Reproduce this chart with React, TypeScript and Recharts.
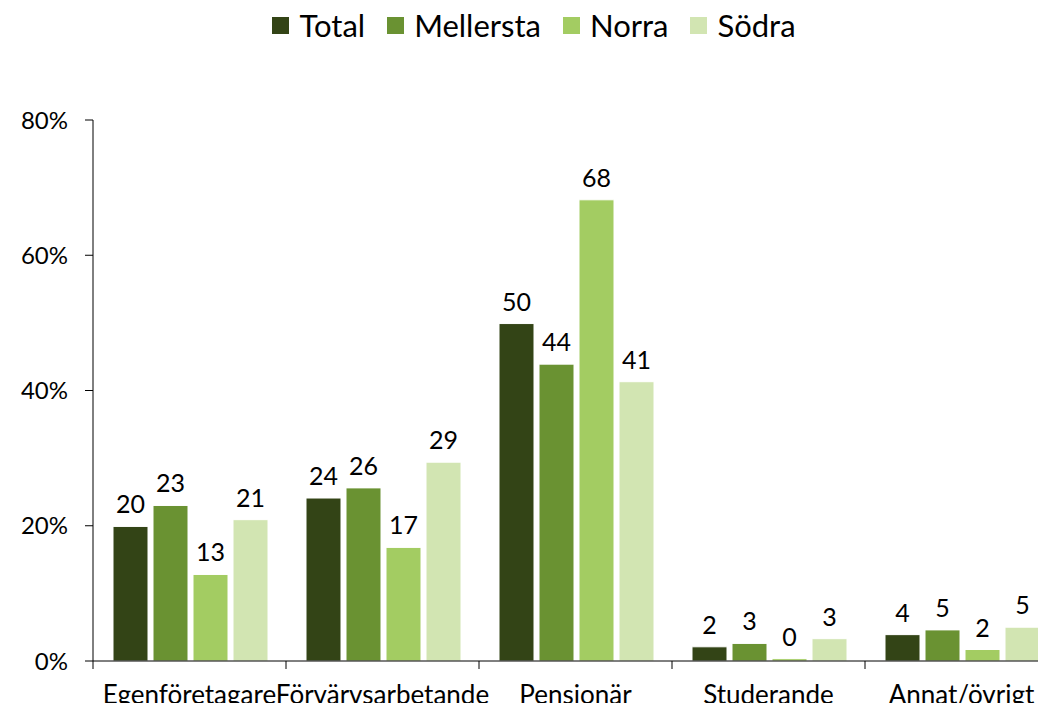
import React from 'react'
import { BarChart, Bar, XAxis, YAxis, LabelList } from 'recharts'

const categories = ['Egenföretagare', 'Förvärvsarbetande', 'Pensionär', 'Studerande', 'Annat/övrigt']
const total = [19.9, 24.1, 49.9, 2.1, 3.9]
const mellersta = [23.0, 25.6, 43.9, 2.6, 4.6]
const norra = [12.8, 16.8, 68.2, 0.35, 1.7]
const sodra = [20.9, 29.4, 41.3, 3.3, 5.0]
const yTicks = [0, 20, 40, 60, 80]

const SERIES = [
  { key: 'total', name: 'Total', color: '#334416' },
  { key: 'mellersta', name: 'Mellersta', color: '#6a9232' },
  { key: 'norra', name: 'Norra', color: '#a3cc62' },
  { key: 'sodra', name: 'Södra', color: '#d2e5b2' },
]

const data = categories.map((c, i) => ({
  cat: c,
  total: total[i],
  mellersta: mellersta[i],
  norra: norra[i],
  sodra: sodra[i],
}))

const FONT = 'Lato, "Open Sans", sans-serif'

function ChartLegend() {
  return (
    <div
      style={{
        position: 'absolute',
        top: 6,
        left: 22,
        width: 1046,
        display: 'flex',
        justifyContent: 'center',
        alignItems: 'center',
        fontFamily: FONT,
        fontSize: 31,
        color: '#000',
      }}
    >
      {SERIES.map((s) => (
        <div key={s.key} style={{ display: 'flex', alignItems: 'center', marginRight: 22 }}>
          <span style={{ width: 17, height: 17, background: s.color, marginRight: 10, display: 'inline-block' }} />
          <span>{s.name}</span>
        </div>
      ))}
    </div>
  )
}

// category label centred, small tick marks on the band edges
function CatTick(props: any) {
  const { x, y, payload, index, visibleTicksCount } = props
  const half = payload.offset ?? 0
  return (
    <g>
      <line x1={x - half} x2={x - half} y1={y} y2={y + 8} stroke="#000" />
      {index === visibleTicksCount - 1 && <line x1={x + half} x2={x + half} y1={y} y2={y + 8} stroke="#000" />}
      <text x={x} y={y + 25} dy="0.71em" textAnchor="middle" fontSize={26} fill="#000" fontFamily={FONT}>
        {payload.value}
      </text>
    </g>
  )
}

export default function App() {
  return (
    <div style={{ margin: -8, width: 1046, height: 711, overflow: 'hidden', background: '#fff', position: 'relative' }}>
      <ChartLegend />
      <BarChart
        width={1060}
        height={711}
        data={data}
        margin={{ top: 120, right: 2, left: 0, bottom: 0 }}
        barCategoryGap={20}
        barGap={5}
      >
        <YAxis
          domain={[0, 80]}
          ticks={yTicks}
          width={93}
          tickFormatter={(v: number) => `${v}%`}
          tick={{ fontSize: 24, fill: '#000', fontFamily: FONT }}
          tickSize={8}
          tickMargin={17}
          axisLine={{ stroke: '#000' }}
          tickLine={{ stroke: '#000' }}
        />
        <XAxis
          dataKey="cat"
          interval={0}
          height={50}
          axisLine={{ stroke: '#000' }}
          tickLine={false}
          tickSize={0}
          tickMargin={0}
          tick={<CatTick />}
        />
        {SERIES.map((s) => (
          <Bar key={s.key} dataKey={s.key} name={s.name} fill={s.color} stroke="#ffffff" strokeWidth={1} isAnimationActive={false}>
            <LabelList
              dataKey={s.key}
              position="top"
              offset={13}
              formatter={(v: number) => Math.round(v).toString()}
              style={{ fontSize: 25, fill: '#000', fontFamily: FONT }}
            />
          </Bar>
        ))}
      </BarChart>
    </div>
  )
}
